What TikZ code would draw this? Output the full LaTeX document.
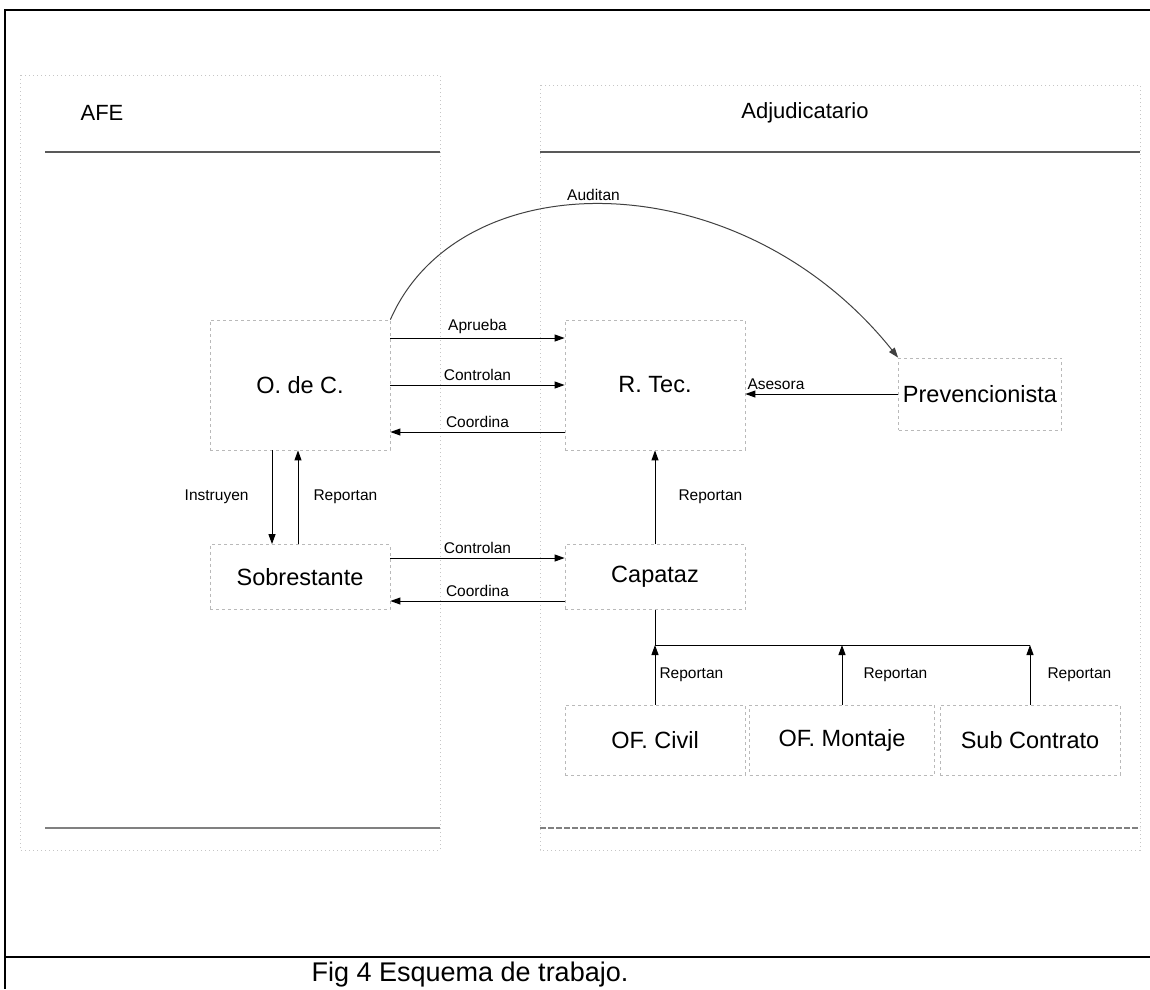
\documentclass[tikz,border=0pt]{standalone}
\usepackage{fontspec}
\setmainfont{Liberation Sans}
\usetikzlibrary{arrows.meta, positioning}

\begin{document}
\begin{tikzpicture}[x=1pt, y=-1pt,
  unit/.style={draw=gray!55, dash pattern=on 3pt off 3pt, line width=0.8pt, inner sep=0pt, minimum width=180, font=\fontsize{23.5}{28}\selectfont},
  lbl/.style={font=\fontsize{15.5}{18}\selectfont, inner sep=1pt},
  link/.style={line width=1pt, -{Triangle[length=10pt,width=7pt]}},
  group/.style={draw=gray!45, dash pattern=on 1pt off 3pt, line width=0.8pt},
  rule/.style={draw=black!65, line width=1.3pt}
]
  \useasboundingbox (0,0) rectangle (1150,989);

  % frame of the page
  \draw[line width=1.6pt] (1150,10) -- (5,10) -- (5,989);
  \draw[line width=1.6pt] (5,957) -- (1150,957);

  % AFE and Adjudicatario areas
  \draw[group] (20,75) rectangle (440,850);
  \draw[group] (540,85) rectangle (1140,850);
  \draw[rule] (45,152) -- (440,152);
  \draw[rule] (540,152) -- (1140,152);
  \draw[rule, draw=black!50] (45,828) -- (440,828);
  \draw[rule, draw=black!50, dash pattern=on 6pt off 2pt] (540,828) -- (1140,828);
  \node[font=\fontsize{22}{26}\selectfont] (afe) at (102,113) {AFE};
  \node[font=\fontsize{22}{26}\selectfont] (adj) at (805,113) {Adjudicatario};

  \node[unit, minimum height=130] (odc) at (300,385) {O. de C.};
  \node[unit, minimum height=130] (rtec) at (655,385) {R. Tec.};
  \node[unit, minimum width=163, minimum height=72] (prev) at (980,394) {Prevencionista};
  \node[unit, minimum height=65] (sob) at (300,577) {Sobrestante};
  \node[unit, minimum height=65] (cap) at (655,577) {Capataz};
  \node[unit, minimum height=70] (civil) at (655,740) {OF. Civil};
  \node[unit, minimum width=185, minimum height=70] (montaje) at (842,740) {OF. Montaje};
  \node[unit, minimum height=70] (sub) at (1030,740) {Sub Contrato};

  \draw[link, draw=black!75] (odc.north east) .. controls (460,160) and (740,160) .. (prev.north west)
    node[lbl, pos=0.47, above=2pt] {Auditan};
  \draw[link] ([yshift=47]odc.east) -- ([yshift=47]rtec.west) node[lbl, midway, above=3pt] {Aprueba};
  \draw[link] (odc.east) -- (rtec.west) node[lbl, midway, above=3pt] {Controlan};
  \draw[link] ([yshift=-47]rtec.west) -- ([yshift=-47]odc.east) node[lbl, midway, above=3pt] {Coordina};
  \draw[link] (prev.west) -- (prev.west -| rtec.east) node[lbl, pos=0.8, above=3pt] {Asesora};

  \draw[link] ([xshift=-28]odc.south) -- ([xshift=-28]sob.north) node[lbl, midway, left=22pt] {Instruyen};
  \draw[link] ([xshift=-2]sob.north) -- ([xshift=-2]odc.south) node[lbl, midway, right=14pt] {Reportan};
  \draw[link] (cap.north) -- (rtec.south) node[lbl, midway, right=22pt] {Reportan};
  \draw[link] ([yshift=19]sob.east) -- ([yshift=19]cap.west) node[lbl, midway, above=3pt] {Controlan};
  \draw[link] ([yshift=-24]cap.west) -- ([yshift=-24]sob.east) node[lbl, midway, above=3pt] {Coordina};

  % reports up to the Capataz
  \coordinate (busL) at (cap.south |- 0,645);
  \coordinate (busR) at (sub.north |- 0,645);
  \draw[line width=1pt] (cap.south) -- (busL) -- (busR);
  \draw[link] (civil.north) -- (busL) node[lbl, midway, right=3pt] {Reportan};
  \draw[link] (montaje.north) -- (montaje.north |- busL) node[lbl, midway, right=20pt] {Reportan};
  \draw[link] (sub.north) -- (busR) node[lbl, midway, right=16pt] {Reportan};

  \node[font=\fontsize{27}{32}\selectfont] (caption) at (470,974) {Fig 4 Esquema de trabajo.};
\end{tikzpicture}
\end{document}
